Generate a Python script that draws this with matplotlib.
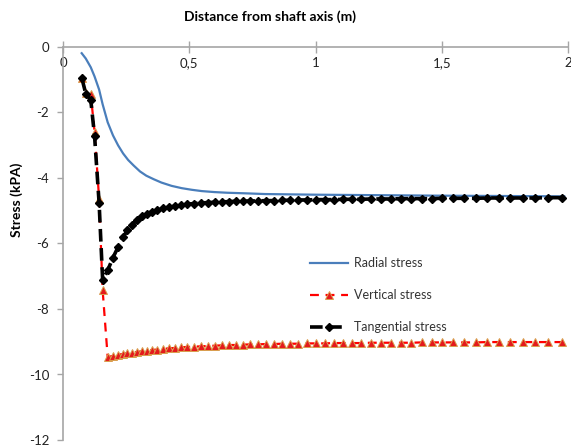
import numpy as np
import matplotlib.pyplot as plt
import matplotlib.ticker as ticker

# distance from shaft axis (m), shared by vertical and tangential series
distance = [
    0.075, 0.090, 0.110, 0.125, 0.143, 0.157, 0.177, 0.198, 0.218, 0.238,
    0.255, 0.273, 0.293, 0.313, 0.333, 0.352, 0.372, 0.396, 0.420, 0.444,
    0.467, 0.491, 0.519, 0.547, 0.574, 0.602, 0.630, 0.657, 0.685, 0.713,
    0.741, 0.772, 0.804, 0.836, 0.867, 0.899, 0.931, 0.966, 1.002, 1.038,
    1.073, 1.109, 1.145, 1.180, 1.220, 1.259, 1.299, 1.339, 1.380, 1.420,
    1.460, 1.500, 1.545, 1.590, 1.635, 1.680, 1.725, 1.770, 1.820, 1.870,
    1.920, 1.975,
]
vertical = [
    -0.96, -1.40, -1.45, -2.59, -4.63, -7.43, -9.47, -9.43, -9.40, -9.37,
    -9.35, -9.33, -9.31, -9.29, -9.27, -9.25, -9.24, -9.22, -9.20, -9.19,
    -9.17, -9.16, -9.15, -9.14, -9.13, -9.12, -9.11, -9.10, -9.10, -9.09,
    -9.08, -9.08, -9.07, -9.07, -9.06, -9.06, -9.06, -9.05, -9.05, -9.05,
    -9.04, -9.04, -9.04, -9.04, -9.03, -9.03, -9.03, -9.03, -9.03, -9.02,
    -9.02, -9.02, -9.02, -9.02, -9.02, -9.01, -9.01, -9.01, -9.01, -9.01,
    -9.01, -9.01,
]
tangential = [
    -0.96, -1.42, -1.62, -2.72, -4.76, -7.12, -6.82, -6.43, -6.11, -5.80,
    -5.60, -5.42, -5.29, -5.17, -5.09, -5.03, -4.98, -4.93, -4.89, -4.86,
    -4.83, -4.80, -4.78, -4.76, -4.75, -4.74, -4.73, -4.72, -4.71, -4.71,
    -4.70, -4.70, -4.69, -4.69, -4.68, -4.68, -4.67, -4.67, -4.66, -4.66,
    -4.66, -4.65, -4.65, -4.65, -4.64, -4.64, -4.64, -4.63, -4.63, -4.63,
    -4.63, -4.62, -4.62, -4.62, -4.62, -4.61, -4.61, -4.61, -4.61, -4.61,
    -4.60, -4.60,
]

# radial stress is a smooth curve, sampled more finely near the wall
radialDistance = [
    0.074, 0.090, 0.110, 0.125, 0.143, 0.157, 0.177, 0.198, 0.218, 0.238,
    0.258, 0.280, 0.305, 0.330, 0.360, 0.390, 0.430, 0.470, 0.510, 0.550,
    0.600, 0.650, 0.730, 0.800, 1.000, 1.500, 1.985,
]
radial = [
    -0.19, -0.35, -0.62, -0.90, -1.30, -1.75, -2.30, -2.70, -3.00, -3.25,
    -3.45, -3.62, -3.80, -3.93, -4.04, -4.14, -4.24, -4.31, -4.36, -4.40,
    -4.43, -4.45, -4.47, -4.49, -4.51, -4.54, -4.56,
]

xTicks = [0, 0.5, 1, 1.5, 2]
yTicks = [0, -2, -4, -6, -8, -10, -12]

plt.rcParams['font.family'] = ['Lato', 'DejaVu Sans']
axisColor = '#A6A6A6'

fig = plt.figure(figsize=(5.71, 4.48), dpi=100)
ax = fig.add_axes([63 / 571, 8 / 448, 505 / 571, 393 / 448])

ax.plot(radialDistance, radial, color='#4A7EBB', linewidth=1.6,
        label='Radial stress', zorder=2)
ax.plot(distance, vertical, color='#FF0000', linewidth=1.6,
        dashes=(4, 3), marker='^', markersize=6,
        markerfacecolor='#E41A1C', markeredgecolor='#D9A050',
        markeredgewidth=0.7, label='Vertical stress', zorder=3)
ax.plot(distance, tangential, color='black', linewidth=2.6,
        dashes=(3.5, 1.8), marker='D', markersize=4.5,
        markerfacecolor='black', markeredgecolor='black',
        label='Tangential stress', zorder=4)

ax.set_xlim(0, 2)
ax.set_ylim(-12, 0)
ax.set_xticks(xTicks)
ax.set_yticks(yTicks)
ax.xaxis.set_major_formatter(ticker.FuncFormatter(
    lambda v, pos: ('%g' % v).replace('.', ',')))
ax.yaxis.set_major_formatter(ticker.FuncFormatter(lambda v, pos: '%d' % v))

# x axis runs along y = 0 at the top of the plot
ax.spines['bottom'].set_position(('data', 0))
ax.spines['top'].set_visible(False)
ax.spines['right'].set_visible(False)
for side in ['bottom', 'left']:
    ax.spines[side].set_color(axisColor)
    ax.spines[side].set_linewidth(1.2)
ax.tick_params(axis='x', direction='inout', length=8, width=1,
               color=axisColor, labelsize=9.5, pad=3, labelcolor='#222222')
ax.tick_params(axis='y', direction='out', length=4, width=1,
               color=axisColor, labelsize=9.5, pad=6, labelcolor='#222222')

fig.text(270 / 571, 1 - 17 / 448, 'Distance from shaft axis (m)',
         ha='center', va='center', fontsize=10, fontweight='bold')
fig.text(17 / 571, 1 - 200 / 448, 'Stress (kPA)', rotation=90,
         ha='center', va='center', fontsize=10, fontweight='bold')

leg = ax.legend(loc='upper left', bbox_to_anchor=(310 / 571, 1 - 257 / 448),
                bbox_transform=fig.transFigure, frameon=False, fontsize=9,
                borderpad=0, borderaxespad=0, labelspacing=1.6,
                handlelength=3.0, handletextpad=0.5)
for text in leg.get_texts():
    text.set_color('#333333')

fig.savefig('out.png', dpi=100)
